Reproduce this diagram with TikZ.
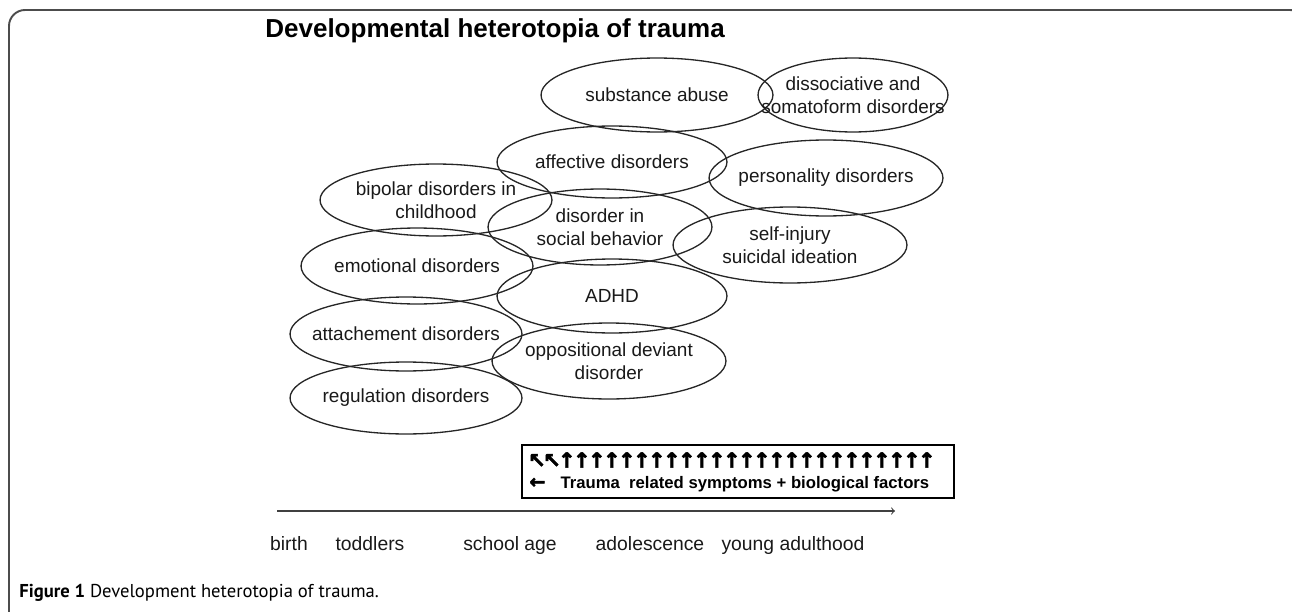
\documentclass[tikz,border=0pt]{standalone}
\usepackage{fontspec}
\setmainfont{Liberation Sans}
\newfontfamily\arrowfont[FakeBold=2.5]{DejaVu Sans}
\newfontfamily\captionfont{PT Sans}
\usetikzlibrary{positioning,shapes.geometric}
\tikzset{Frame/.style={%
    draw=black!70,%
    line width=1.1pt,%
    rounded corners=0.32cm,%
}}
\tikzset{Disorder/.style 2 args={%
    shape=ellipse,%
    draw=black!85,%
    line width=0.75pt,%
    minimum width=#1*0.04cm,%
    minimum height=#2*0.04cm,%
    inner sep=0pt,%
}}
\tikzset{DisorderText/.style={%
    align=center,%
    text=black!90,%
    inner sep=0pt,%
    font=\fontsize{10.8}{13.1}\selectfont,%
}}
\tikzset{AgeLabel/.style={%
    anchor=base,%
    text=black!90,%
    inner sep=0pt,%
    font=\fontsize{11}{13}\selectfont,%
}}
\tikzset{TimeAxis/.style={%
    ->,%
    draw=black!75,%
    line width=0.6pt,%
}}
\tikzset{FactorBox/.style={%
    draw=black,%
    line width=1.3pt,%
    minimum width=8.64cm,%
    minimum height=1.06cm,%
    inner sep=0pt,%
}}
\tikzset{FactorRow/.style={%
    anchor=west,%
    inner sep=0pt,%
    font=\bfseries\fontsize{9.5}{11}\selectfont,%
}}
\NewDocumentCommand{\upArrows}{m}{%
    {\arrowfont\fontsize{12}{12}\selectfont
     \makebox[0.3cm]{↖}\makebox[0.3cm]{↖}%
     \foreach \i in {1,...,#1}{\makebox[0.3cm]{↑}}}%
}

\begin{document}
\begin{tikzpicture}[x=0.02cm, y=-0.02cm]
    \useasboundingbox (0,0) rectangle (1292,612);
    \clip (0,0) rectangle (1292,612);
    \draw[Frame] (9,640) -- (9,10) -- (1306,10) -- (1306,640);

    \node[anchor=base west, inner sep=0pt, font=\bfseries\fontsize{14.8}{16}\selectfont] (title) at (265,37) {Developmental heterotopia of trauma};

    % disorders, roughly by age
    \node[Disorder={116}{37}, label={[DisorderText]center:substance abuse}] (subst) at (657,95) {};
    \node[Disorder={95}{37}, label={[DisorderText]center:{dissociative and\\somatoform disorders}}] (dissoc) at (853,95) {};
    \node[Disorder={115}{36}, label={[DisorderText]center:affective disorders}] (affect) at (612,162) {};
    \node[Disorder={117}{38}, label={[DisorderText]center:personality disorders}] (person) at (826,178) {};
    \node[Disorder={116}{36}, label={[DisorderText]center:{bipolar disorders in\\childhood}}] (bipolar) at (436,200) {};
    \node[Disorder={112}{38}, label={[DisorderText]center:{disorder in\\social behavior}}] (social) at (600,227) {};
    \node[Disorder={117}{38}, label={[DisorderText]center:{self-injury\\suicidal ideation}}] (selfinj) at (790,245) {};
    \node[Disorder={116}{38}, label={[DisorderText]center:emotional disorders}] (emotion) at (417,266) {};
    \node[Disorder={115}{37}, label={[DisorderText]center:ADHD}] (adhd) at (612,296) {};
    \node[Disorder={116}{37}, label={[DisorderText]center:attachement disorders}] (attach) at (406,334) {};
    \node[Disorder={117}{38}, label={[DisorderText]center:{oppositional deviant\\disorder}}] (oppos) at (609,361) {};
    \node[Disorder={116}{36}, label={[DisorderText]center:regulation disorders}] (regul) at (406,398) {};

    \node[FactorBox] (factors) at (738,471.5) {};
    \node[FactorRow] (arrowrow) at (529,460) {\upArrows{25}};
    \node[FactorRow] (traumarow) at (529,484) {{\arrowfont\fontsize{11}{11}\selectfont ←}\hspace{0.3cm}Trauma\ \ related symptoms + biological factors};

    \coordinate (tstart) at (277,511);
    \coordinate (tend) at (895,511);
    \draw[TimeAxis] (tstart) -- (tend);

    \node[AgeLabel] (birth) at (289,550) {birth};
    \node[AgeLabel] (toddlers) at (370,550) {toddlers};
    \node[AgeLabel] (school) at (510,550) {school age};
    \node[AgeLabel] (adolesc) at (650,550) {adolescence};
    \node[AgeLabel] (young) at (793,550) {young adulthood};

    \node[anchor=base west, inner sep=0pt, font=\captionfont\fontsize{10.6}{12}\selectfont] (caption) at (19,597) {\textbf{Figure 1} Development heterotopia of trauma.};
\end{tikzpicture}
\end{document}
